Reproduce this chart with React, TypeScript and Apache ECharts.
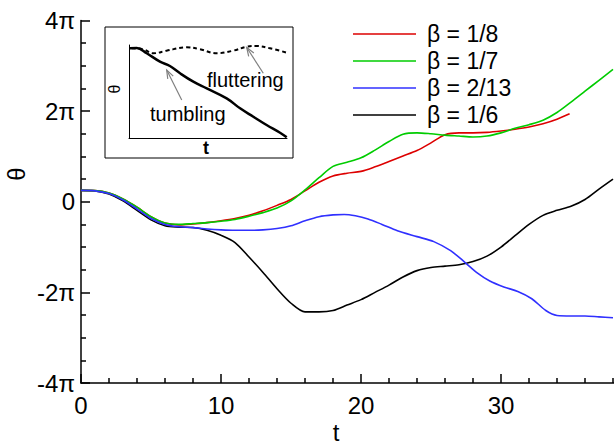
import React, { useEffect, useRef } from "react";
import * as echarts from "echarts";

const FONT = '"Liberation Sans", Arial, Helvetica, sans-serif';

// Legend entries and line colours
const betaLabels = ["β = 1/8", "β = 1/7", "β = 2/13", "β = 1/6"];
const betaColors = ["#dd0000", "#00cc00", "#3030ff", "#000000"];

// Orientation angle θ (in multiples of π) against time t
const thetaBeta1_8: [number, number][] = [
  [0, 0.25], [1, 0.245], [2, 0.19], [3, 0.06], [4, -0.12], [5, -0.33], [6, -0.47], [7, -0.51],
  [8, -0.49], [9, -0.46], [10, -0.42], [11, -0.37], [12, -0.3], [13, -0.2], [14, -0.08], [15, 0.05],
  [16, 0.24], [17, 0.43], [18, 0.57], [19, 0.63], [20, 0.67], [21, 0.77], [22, 0.89], [23, 1.01],
  [24, 1.13], [25, 1.3], [26, 1.48], [27, 1.52], [28, 1.52], [29, 1.53], [30, 1.56], [31, 1.6],
  [32, 1.65], [33, 1.72], [34, 1.82], [34.9, 1.94],
];
const thetaBeta1_7: [number, number][] = [
  [0, 0.25], [1, 0.245], [2, 0.19], [3, 0.06], [4, -0.12], [5, -0.33], [6, -0.47], [7, -0.5],
  [8, -0.48], [9, -0.46], [10, -0.43], [11, -0.39], [12, -0.32], [13, -0.24], [14, -0.14], [15, 0.02],
  [16, 0.26], [17, 0.53], [18, 0.78], [19, 0.87], [20, 0.97], [21, 1.14], [22, 1.33], [23, 1.49],
  [24, 1.52], [25, 1.5], [26, 1.47], [27, 1.45], [28, 1.43], [29, 1.45], [30, 1.52], [31, 1.62],
  [32, 1.7], [33, 1.8], [34, 1.97], [35, 2.2], [36, 2.44], [37, 2.68], [38, 2.92],
];
const thetaBeta2_13: [number, number][] = [
  [0, 0.25], [1, 0.24], [2, 0.18], [3, 0.04], [4, -0.16], [5, -0.37], [6, -0.5], [7, -0.55],
  [8, -0.57], [9, -0.6], [10, -0.62], [11, -0.63], [12, -0.63], [13, -0.62], [14, -0.59], [15, -0.53],
  [16, -0.42], [17, -0.33], [18, -0.29], [18.8, -0.28], [19.6, -0.31], [20.5, -0.38], [21.5, -0.5],
  [22.6, -0.64], [24, -0.77], [25.2, -0.88], [26.4, -1.08], [27.4, -1.33], [28.3, -1.57], [29.2, -1.75],
  [30.2, -1.88], [31.2, -1.98], [32.2, -2.14], [33.2, -2.4], [34, -2.51], [35, -2.52], [36, -2.52],
  [37, -2.54], [38, -2.56],
];
const thetaBeta1_6: [number, number][] = [
  [0, 0.25], [1, 0.24], [2, 0.17], [3, 0.02], [4, -0.19], [5, -0.4], [6, -0.53], [7, -0.56],
  [8, -0.57], [9, -0.63], [10, -0.74], [11, -0.9], [12, -1.22], [13, -1.56], [14, -1.92], [15, -2.24],
  [16, -2.43], [17, -2.43], [18, -2.4], [19, -2.28], [20, -2.16], [21, -2.0], [22, -1.84], [23, -1.66],
  [24, -1.52], [25, -1.45], [26, -1.42], [27, -1.39], [28, -1.32], [29, -1.2], [30, -1.0], [31, -0.75],
  [32, -0.5], [33, -0.3], [34, -0.19], [35, -0.1], [36, 0.05], [37, 0.28], [38, 0.5],
];
const betaSeries = [thetaBeta1_8, thetaBeta1_7, thetaBeta2_13, thetaBeta1_6];

// Main axis tick labels (θ in multiples of π)
const yTickLabels: Record<string, string> = { "-4": "-4π", "-2": "-2π", "0": "0", "2": "2π", "4": "4π" };

// Inset sketch: normalised t against normalised θ
const insetFluttering: [number, number][] = [
  [0.017, 0.986], [0.09, 0.975], [0.154, 0.931], [0.238, 0.96], [0.365, 0.997], [0.449, 0.975],
  [0.555, 0.931], [0.66, 0.96], [0.745, 1.003], [0.808, 1.011], [0.892, 0.986], [0.998, 0.938],
];
const insetTumbling: [number, number][] = [
  [0.006, 0.986], [0.049, 0.989], [0.112, 0.931], [0.196, 0.839], [0.259, 0.791], [0.323, 0.711],
  [0.407, 0.619], [0.492, 0.546], [0.618, 0.436], [0.703, 0.326], [0.787, 0.234], [0.871, 0.143],
  [0.956, 0.058], [0.998, 0.008],
];

const axisLineStyle = { color: "#000", width: 1.5 };

function arrowHead(tipX: number, tipY: number, tailX: number, tailY: number, len: number) {
  const dx = tailX - tipX;
  const dy = tailY - tipY;
  const d = Math.hypot(dx, dy);
  const ux = dx / d;
  const uy = dy / d;
  const a = (20 * Math.PI) / 180;
  const c = Math.cos(a);
  const s = Math.sin(a);
  const p1 = [tipX + len * (ux * c - uy * s), tipY + len * (ux * s + uy * c)];
  const p2 = [tipX + len * (ux * c + uy * s), tipY + len * (-ux * s + uy * c)];
  return [p1, [tipX, tipY], p2];
}

export default function App() {
  const ref = useRef<HTMLDivElement>(null);

  useEffect(() => {
    if (!ref.current) return;
    const chart = echarts.init(ref.current, undefined, { renderer: "svg" });

    const mainSeries = betaSeries.map((data, i) => ({
      type: "line",
      name: betaLabels[i],
      data,
      xAxisIndex: 0,
      yAxisIndex: 0,
      symbol: "none",
      showSymbol: false,
      smooth: 0.3,
      lineStyle: { color: betaColors[i], width: 1.6 },
      itemStyle: { color: betaColors[i] },
      z: 3 + (i === 3 ? 0 : 1),
    }));

    const grey = "#808080";
    const flutterTip = [246.7, 47.5];
    const flutterTail = [263.3, 73.3];
    const tumbleTip = [166.7, 70];
    const tumbleTail = [181.7, 100];

    const option: any = {
      animation: false,
      backgroundColor: "#fff",
      grid: [
        { left: 81, top: 20.5, width: 560, height: 362.5, outerBoundsMode: "none", containLabel: false },
        { left: 129, top: 45, width: 158, height: 93, outerBoundsMode: "none", containLabel: false },
      ],
      xAxis: [
        {
          gridIndex: 0,
          type: "value",
          min: 0,
          max: 40,
          interval: 10,
          axisLine: { show: true, onZero: false, lineStyle: axisLineStyle },
          axisTick: { show: true, inside: true, length: 9, lineStyle: axisLineStyle },
          minorTick: { show: true, splitNumber: 5, length: 5, lineStyle: axisLineStyle },
          axisLabel: { color: "#000", fontSize: 24, fontFamily: FONT, margin: 10, showMaxLabel: false },
          splitLine: { show: false },
          minorSplitLine: { show: false },
        },
        {
          gridIndex: 1,
          type: "value",
          min: 0,
          max: 1,
          axisLine: { show: true, onZero: false, lineStyle: { color: "#000", width: 1 } },
          axisTick: { show: false },
          axisLabel: { show: false },
          splitLine: { show: false },
        },
      ],
      yAxis: [
        {
          gridIndex: 0,
          type: "value",
          min: -4,
          max: 4,
          interval: 2,
          axisLine: { show: true, onZero: false, lineStyle: axisLineStyle },
          axisTick: { show: true, inside: true, length: 9, lineStyle: axisLineStyle },
          minorTick: { show: true, splitNumber: 4, length: 5, lineStyle: axisLineStyle },
          axisLabel: {
            color: "#000",
            fontSize: 24,
            fontFamily: FONT,
            margin: 6,
            formatter: (v: number) => yTickLabels[String(v)] ?? String(v),
          },
          splitLine: { show: false },
          minorSplitLine: { show: false },
        },
        {
          gridIndex: 1,
          type: "value",
          min: 0,
          max: 1.022,
          axisLine: { show: true, onZero: false, lineStyle: { color: "#000", width: 1 } },
          axisTick: { show: false },
          axisLabel: { show: false },
          splitLine: { show: false },
        },
      ],
      legend: {
        data: betaLabels,
        orient: "vertical",
        left: 348,
        top: 17.5,
        icon: "rect",
        itemWidth: 63,
        itemHeight: 1.6,
        itemGap: 4,
        selectedMode: false,
        textStyle: { fontSize: 23, fontFamily: FONT, color: "#000", padding: [0, 0, 0, 6] },
      },
      series: [
        ...mainSeries,
        {
          type: "line",
          name: "fluttering",
          data: insetFluttering,
          xAxisIndex: 1,
          yAxisIndex: 1,
          symbol: "none",
          smooth: 0.4,
          lineStyle: { color: "#000", width: 2, type: [4, 3] },
        },
        {
          type: "line",
          name: "tumbling",
          data: insetTumbling,
          xAxisIndex: 1,
          yAxisIndex: 1,
          symbol: "none",
          smooth: 0.4,
          lineStyle: { color: "#000", width: 2.5 },
        },
      ],
      graphic: [
        {
          type: "rect",
          shape: { x: 105, y: 27, width: 188, height: 131 },
          style: { fill: "none", stroke: "#000", lineWidth: 1 },
        },
        {
          type: "text",
          x: 16,
          y: 174,
          rotation: Math.PI / 2,
          style: { text: "θ", fontSize: 24, fontFamily: FONT, fill: "#000", align: "center", verticalAlign: "middle" },
        },
        {
          type: "text",
          x: 336,
          y: 432,
          style: { text: "t", fontSize: 24, fontFamily: FONT, fill: "#000", align: "center", verticalAlign: "middle" },
        },
        {
          type: "text",
          x: 114,
          y: 89,
          rotation: Math.PI / 2,
          style: { text: "θ", fontSize: 16, fontFamily: FONT, fill: "#000", align: "center", verticalAlign: "middle" },
        },
        {
          type: "text",
          x: 206,
          y: 148,
          style: {
            text: "t",
            fontSize: 18,
            fontWeight: "bold",
            fontFamily: FONT,
            fill: "#000",
            align: "center",
            verticalAlign: "middle",
          },
        },
        {
          type: "text",
          x: 207,
          y: 80,
          style: { text: "fluttering", fontSize: 20, fontFamily: FONT, fill: "#000", align: "left", verticalAlign: "middle" },
        },
        {
          type: "text",
          x: 150,
          y: 114,
          style: { text: "tumbling", fontSize: 20, fontFamily: FONT, fill: "#000", align: "left", verticalAlign: "middle" },
        },
        {
          type: "line",
          shape: { x1: flutterTail[0], y1: flutterTail[1], x2: flutterTip[0], y2: flutterTip[1] },
          style: { stroke: grey, lineWidth: 1.2 },
        },
        {
          type: "polyline",
          shape: { points: arrowHead(flutterTip[0], flutterTip[1], flutterTail[0], flutterTail[1], 9) },
          style: { stroke: grey, lineWidth: 1.2, fill: "none" },
        },
        {
          type: "line",
          shape: { x1: tumbleTail[0], y1: tumbleTail[1], x2: tumbleTip[0], y2: tumbleTip[1] },
          style: { stroke: grey, lineWidth: 1.2 },
        },
        {
          type: "polyline",
          shape: { points: arrowHead(tumbleTip[0], tumbleTip[1], tumbleTail[0], tumbleTail[1], 9) },
          style: { stroke: grey, lineWidth: 1.2, fill: "none" },
        },
      ],
    };

    chart.setOption(option);
    return () => chart.dispose();
  }, []);

  return <div ref={ref} style={{ position: "fixed", left: 0, top: 0, width: 614, height: 444 }} />;
}
